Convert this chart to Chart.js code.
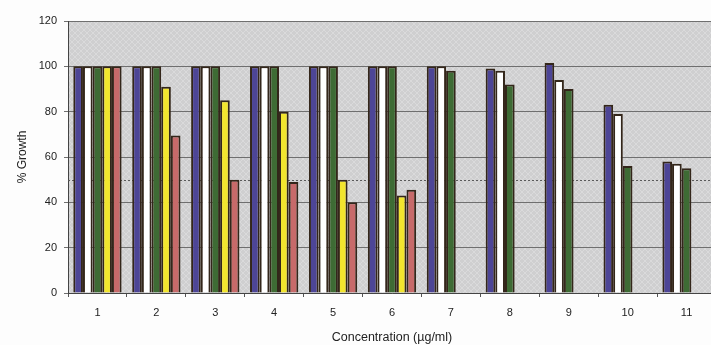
<!DOCTYPE html>
<html>
<head>
<meta charset="utf-8">
<script src="https://cdn.jsdelivr.net/npm/chart.js@4.4.1/dist/chart.umd.min.js"></script>
<style>
html, body { margin: 0; padding: 0; background: #fdfdfd; overflow: hidden; }
#wrap { width: 716px; height: 345px; position: relative; }
</style>
</head>
<body>
<div id="wrap"><canvas id="growth"></canvas></div>
<script>
// concentrations on the x axis
var concentrations = ['1', '2', '3', '4', '5', '6', '7', '8', '9', '10', '11'];

// % growth for each series
var purpleSeries = [100, 100, 100, 100, 100, 100, 100, 99, 101.5, 83, 58];
var whiteSeries  = [100, 100, 100, 100, 100, 100, 100, 98, 94, 79, 57];
var greenSeries  = [100, 100, 100, 100, 100, 100, 98, 92, 90, 56, 55];
var yellowSeries = [100, 91, 85, 80, 50, 43, null, null, null, null, null];
var redSeries    = [100, 69.5, 50, 49, 40, 45.5, null, null, null, null, null];

var yMin = 0, yMax = 120, yStep = 20;
var halfLine = 50;

var edge = '#33261a';

var plotBackground = {
	id: 'plotBackground',
	beforeDraw: function(chart) {
		var a = chart.chartArea;
		var ctx = chart.ctx;
		var c = document.createElement('canvas');
		c.width = 6; c.height = 6;
		var g = c.getContext('2d');
		g.fillStyle = '#cfcfd0';
		g.fillRect(0, 0, 6, 6);
		g.strokeStyle = '#dadadb';
		g.lineWidth = 1;
		g.beginPath();
		g.moveTo(0, 6); g.lineTo(6, 0);
		g.moveTo(0, 0); g.lineTo(6, 6);
		g.stroke();
		ctx.save();
		ctx.fillStyle = ctx.createPattern(c, 'repeat');
		ctx.fillRect(a.left, a.top, a.right - a.left, a.bottom - a.top);
		ctx.restore();
	}
};

var halfMark = {
	id: 'halfMark',
	beforeDatasetsDraw: function(chart) {
		var a = chart.chartArea;
		var y = Math.round(chart.scales.y.getPixelForValue(halfLine)) + 0.5;
		var ctx = chart.ctx;
		ctx.save();
		ctx.strokeStyle = '#5a5a5a';
		ctx.lineWidth = 1;
		ctx.setLineDash([2, 2]);
		ctx.beginPath();
		ctx.moveTo(a.left, y);
		ctx.lineTo(a.right, y);
		ctx.stroke();
		ctx.restore();
	}
};

Chart.defaults.font.family = '"Liberation Sans", Arial, sans-serif';
Chart.defaults.color = '#222';

function bars(values, colour) {
	return {
		data: values,
		backgroundColor: colour,
		borderColor: edge,
		borderWidth: 2,
		categoryPercentage: 0.82,
		barPercentage: 1.0
	};
}

new Chart(document.getElementById('growth'), {
	type: 'bar',
	data: {
		labels: concentrations,
		datasets: [
			bars(purpleSeries, '#4d4596'),
			bars(whiteSeries, '#ffffff'),
			bars(greenSeries, '#3e6b34'),
			bars(yellowSeries, '#f2e52e'),
			bars(redSeries, '#c76a6a')
		]
	},
	options: {
		responsive: true,
		maintainAspectRatio: false,
		animation: false,
		layout: { padding: { left: 0, top: 21, right: 0, bottom: 0 } },
		plugins: {
			legend: { display: false },
			tooltip: { enabled: false }
		},
		scales: {
			x: {
				grid: { display: true, drawOnChartArea: false, drawTicks: true, tickLength: 4, color: '#555', offset: true },
				border: { color: '#444', width: 1 },
				ticks: { font: { size: 11 }, padding: 9, color: '#222' },
				title: { display: true, text: 'Concentration (µg/ml)', font: { size: 12.5 }, padding: { top: 0, bottom: 0 }, color: '#222' },
				afterFit: function(s) { s.height = 52; }
			},
			y: {
				min: yMin,
				max: yMax,
				ticks: { stepSize: yStep, font: { size: 11 }, padding: 7, color: '#222' },
				grid: { color: '#6f6f6f', tickLength: 4, drawTicks: true },
				border: { color: '#444', width: 1 },
				title: { display: true, text: '% Growth', font: { size: 12 }, padding: { top: 15, bottom: 0 }, color: '#222' },
				afterFit: function(s) { s.width = 68; }
			}
		}
	},
	plugins: [plotBackground, halfMark]
});
</script>
</body>
</html>
